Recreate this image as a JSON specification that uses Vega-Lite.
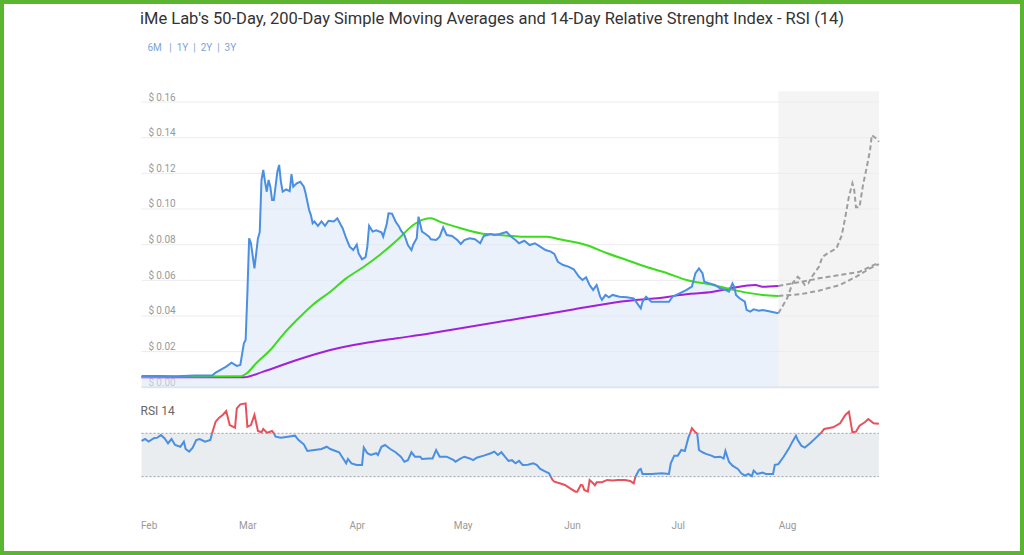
{
  "$schema": "https://vega.github.io/schema/vega-lite/v6.json",
  "width": 1024,
  "height": 555,
  "autosize": "none",
  "padding": 0,
  "background": "white",
  "title": {
    "text": "iMe Lab's 50-Day, 200-Day Simple Moving Averages and 14-Day Relative Strenght Index - RSI (14)",
    "subtitle": "\u200b\u00a0\u00a0\u00a06M\u00a0\u00a0\u00a0|\u00a0\u00a01Y\u00a0\u00a0|\u00a0\u00a02Y\u00a0\u00a0|\u00a0\u00a03Y",
    "anchor": "start",
    "frame": "group",
    "dx": 140,
    "offset": -53,
    "font": "Roboto",
    "fontSize": 16.5,
    "fontWeight": "normal",
    "color": "#333333",
    "subtitleFont": "Roboto",
    "subtitleFontSize": 10,
    "subtitleColor": "#7da3d6",
    "subtitlePadding": 16
  },
  "config": {
    "view": {"stroke": "#5cb531", "strokeWidth": 8, "fill": "white"},
    "font": "Roboto"
  },
  "datasets": {
    "price": [
      {"date": "2022-01-30", "v": 0.0063},
      {"date": "2022-02-04", "v": 0.0064},
      {"date": "2022-02-09", "v": 0.0062},
      {"date": "2022-02-14", "v": 0.0066},
      {"date": "2022-02-19", "v": 0.0066},
      {"date": "2022-02-20", "v": 0.0082},
      {"date": "2022-02-23", "v": 0.0116},
      {"date": "2022-02-24T12:00Z", "v": 0.0138},
      {"date": "2022-02-26", "v": 0.012},
      {"date": "2022-02-27", "v": 0.0125},
      {"date": "2022-02-28", "v": 0.0247},
      {"date": "2022-02-28T12:00Z", "v": 0.0265},
      {"date": "2022-03-01", "v": 0.0527},
      {"date": "2022-03-01T12:00Z", "v": 0.0836},
      {"date": "2022-03-02", "v": 0.081},
      {"date": "2022-03-03", "v": 0.0667},
      {"date": "2022-03-04", "v": 0.0836},
      {"date": "2022-03-04T12:00Z", "v": 0.087},
      {"date": "2022-03-05", "v": 0.1163},
      {"date": "2022-03-05T12:00Z", "v": 0.1219},
      {"date": "2022-03-06", "v": 0.1153},
      {"date": "2022-03-06T12:00Z", "v": 0.1097},
      {"date": "2022-03-07", "v": 0.1163},
      {"date": "2022-03-07T12:00Z", "v": 0.1125},
      {"date": "2022-03-08", "v": 0.105},
      {"date": "2022-03-08T12:00Z", "v": 0.105},
      {"date": "2022-03-09T12:00Z", "v": 0.1209},
      {"date": "2022-03-10", "v": 0.1247},
      {"date": "2022-03-10T12:00Z", "v": 0.1153},
      {"date": "2022-03-11", "v": 0.1097},
      {"date": "2022-03-12", "v": 0.111},
      {"date": "2022-03-13", "v": 0.110},
      {"date": "2022-03-13T12:00Z", "v": 0.1196},
      {"date": "2022-03-14", "v": 0.1125},
      {"date": "2022-03-15", "v": 0.1144},
      {"date": "2022-03-16", "v": 0.1153},
      {"date": "2022-03-17", "v": 0.1125},
      {"date": "2022-03-17T12:00Z", "v": 0.1088},
      {"date": "2022-03-18T12:00Z", "v": 0.0994},
      {"date": "2022-03-19", "v": 0.0966},
      {"date": "2022-03-19T12:00Z", "v": 0.092},
      {"date": "2022-03-20", "v": 0.093},
      {"date": "2022-03-21", "v": 0.0905},
      {"date": "2022-03-22", "v": 0.093},
      {"date": "2022-03-23", "v": 0.0905},
      {"date": "2022-03-24", "v": 0.0934},
      {"date": "2022-03-25T12:00Z", "v": 0.093},
      {"date": "2022-03-26T12:00Z", "v": 0.0948},
      {"date": "2022-03-27T12:00Z", "v": 0.091},
      {"date": "2022-03-28", "v": 0.0892},
      {"date": "2022-03-29", "v": 0.0836},
      {"date": "2022-03-30", "v": 0.0789},
      {"date": "2022-03-31", "v": 0.077},
      {"date": "2022-04-01", "v": 0.080},
      {"date": "2022-04-01T12:00Z", "v": 0.0752},
      {"date": "2022-04-02T12:00Z", "v": 0.0718},
      {"date": "2022-04-03T12:00Z", "v": 0.073},
      {"date": "2022-04-04", "v": 0.0789},
      {"date": "2022-04-04T12:00Z", "v": 0.0905},
      {"date": "2022-04-05T12:00Z", "v": 0.0873},
      {"date": "2022-04-06T12:00Z", "v": 0.088},
      {"date": "2022-04-08", "v": 0.0869},
      {"date": "2022-04-08T12:00Z", "v": 0.0845},
      {"date": "2022-04-09T12:00Z", "v": 0.0916},
      {"date": "2022-04-10", "v": 0.0976},
      {"date": "2022-04-11", "v": 0.0974},
      {"date": "2022-04-12", "v": 0.093},
      {"date": "2022-04-13", "v": 0.0901},
      {"date": "2022-04-13T12:00Z", "v": 0.088},
      {"date": "2022-04-14T12:00Z", "v": 0.0854},
      {"date": "2022-04-15T12:00Z", "v": 0.0798},
      {"date": "2022-04-16T12:00Z", "v": 0.077},
      {"date": "2022-04-17", "v": 0.080},
      {"date": "2022-04-18", "v": 0.0836},
      {"date": "2022-04-18T12:00Z", "v": 0.0957},
      {"date": "2022-04-19T12:00Z", "v": 0.0873},
      {"date": "2022-04-20T12:00Z", "v": 0.086},
      {"date": "2022-04-21T12:00Z", "v": 0.0845},
      {"date": "2022-04-22", "v": 0.083},
      {"date": "2022-04-23T12:00Z", "v": 0.0826},
      {"date": "2022-04-24T12:00Z", "v": 0.0845},
      {"date": "2022-04-25T12:00Z", "v": 0.0897},
      {"date": "2022-04-26T12:00Z", "v": 0.0854},
      {"date": "2022-04-28", "v": 0.0849},
      {"date": "2022-04-29T12:00Z", "v": 0.0826},
      {"date": "2022-04-30T12:00Z", "v": 0.0804},
      {"date": "2022-05-01T12:00Z", "v": 0.0826},
      {"date": "2022-05-03", "v": 0.0836},
      {"date": "2022-05-04T12:00Z", "v": 0.083},
      {"date": "2022-05-06", "v": 0.0808},
      {"date": "2022-05-07", "v": 0.0849},
      {"date": "2022-05-09", "v": 0.086},
      {"date": "2022-05-10", "v": 0.0854},
      {"date": "2022-05-11T12:00Z", "v": 0.086},
      {"date": "2022-05-13T12:00Z", "v": 0.0871},
      {"date": "2022-05-14T12:00Z", "v": 0.0849},
      {"date": "2022-05-16", "v": 0.0826},
      {"date": "2022-05-17", "v": 0.0808},
      {"date": "2022-05-18T12:00Z", "v": 0.0822},
      {"date": "2022-05-20", "v": 0.0798},
      {"date": "2022-05-21T12:00Z", "v": 0.0808},
      {"date": "2022-05-23", "v": 0.0789},
      {"date": "2022-05-24T12:00Z", "v": 0.077},
      {"date": "2022-05-26", "v": 0.0761},
      {"date": "2022-05-27", "v": 0.0748},
      {"date": "2022-05-28", "v": 0.0704},
      {"date": "2022-05-29T12:00Z", "v": 0.0686},
      {"date": "2022-05-31", "v": 0.0677},
      {"date": "2022-06-01T12:00Z", "v": 0.0662},
      {"date": "2022-06-03", "v": 0.062},
      {"date": "2022-06-04", "v": 0.0602},
      {"date": "2022-06-05", "v": 0.0617},
      {"date": "2022-06-06", "v": 0.0574},
      {"date": "2022-06-07", "v": 0.0546},
      {"date": "2022-06-08", "v": 0.0574},
      {"date": "2022-06-09", "v": 0.0508},
      {"date": "2022-06-09T12:00Z", "v": 0.049},
      {"date": "2022-06-10T12:00Z", "v": 0.0518},
      {"date": "2022-06-11T12:00Z", "v": 0.0505},
      {"date": "2022-06-12T12:00Z", "v": 0.0518},
      {"date": "2022-06-14T12:00Z", "v": 0.0508},
      {"date": "2022-06-16T12:00Z", "v": 0.0505},
      {"date": "2022-06-18T12:00Z", "v": 0.0499},
      {"date": "2022-06-19T12:00Z", "v": 0.0471},
      {"date": "2022-06-20T12:00Z", "v": 0.0443},
      {"date": "2022-06-21", "v": 0.048},
      {"date": "2022-06-22", "v": 0.0508},
      {"date": "2022-06-23T12:00Z", "v": 0.048},
      {"date": "2022-06-26", "v": 0.048},
      {"date": "2022-06-28T12:00Z", "v": 0.048},
      {"date": "2022-06-29T12:00Z", "v": 0.0508},
      {"date": "2022-07-01T12:00Z", "v": 0.0527},
      {"date": "2022-07-03T12:00Z", "v": 0.0546},
      {"date": "2022-07-05", "v": 0.0565},
      {"date": "2022-07-06", "v": 0.064},
      {"date": "2022-07-07", "v": 0.0667},
      {"date": "2022-07-08", "v": 0.064},
      {"date": "2022-07-08T12:00Z", "v": 0.0592},
      {"date": "2022-07-10", "v": 0.0583},
      {"date": "2022-07-11T12:00Z", "v": 0.0574},
      {"date": "2022-07-13", "v": 0.0555},
      {"date": "2022-07-14T12:00Z", "v": 0.0546},
      {"date": "2022-07-15T12:00Z", "v": 0.0536},
      {"date": "2022-07-16T12:00Z", "v": 0.0583},
      {"date": "2022-07-17", "v": 0.0564},
      {"date": "2022-07-17T12:00Z", "v": 0.0518},
      {"date": "2022-07-18T12:00Z", "v": 0.0499},
      {"date": "2022-07-20", "v": 0.048},
      {"date": "2022-07-20T12:00Z", "v": 0.0434},
      {"date": "2022-07-21T12:00Z", "v": 0.0424},
      {"date": "2022-07-22T12:00Z", "v": 0.0437},
      {"date": "2022-07-24", "v": 0.043},
      {"date": "2022-07-25", "v": 0.0434},
      {"date": "2022-07-26T12:00Z", "v": 0.0428},
      {"date": "2022-07-27T12:00Z", "v": 0.0424},
      {"date": "2022-07-29T12:00Z", "v": 0.0415}
    ],
    "sma": [
      {"date": "2022-01-30", "v": 0.0058, "s": "sma50"},
      {"date": "2022-02-27", "v": 0.0062, "s": "sma50"},
      {"date": "2022-03-01", "v": 0.0082, "s": "sma50"},
      {"date": "2022-03-03T12:00Z", "v": 0.0135, "s": "sma50"},
      {"date": "2022-03-07T12:00Z", "v": 0.0209, "s": "sma50"},
      {"date": "2022-03-11", "v": 0.0293, "s": "sma50"},
      {"date": "2022-03-15", "v": 0.0377, "s": "sma50"},
      {"date": "2022-03-19T12:00Z", "v": 0.0462, "s": "sma50"},
      {"date": "2022-03-24T12:00Z", "v": 0.0536, "s": "sma50"},
      {"date": "2022-03-29", "v": 0.0611, "s": "sma50"},
      {"date": "2022-04-03", "v": 0.0676, "s": "sma50"},
      {"date": "2022-04-07T12:00Z", "v": 0.0742, "s": "sma50"},
      {"date": "2022-04-12T12:00Z", "v": 0.0826, "s": "sma50"},
      {"date": "2022-04-17", "v": 0.091, "s": "sma50"},
      {"date": "2022-04-20", "v": 0.0942, "s": "sma50"},
      {"date": "2022-04-22", "v": 0.0948, "s": "sma50"},
      {"date": "2022-04-24T12:00Z", "v": 0.0929, "s": "sma50"},
      {"date": "2022-04-30T12:00Z", "v": 0.0892, "s": "sma50"},
      {"date": "2022-05-06", "v": 0.0864, "s": "sma50"},
      {"date": "2022-05-11T12:00Z", "v": 0.0854, "s": "sma50"},
      {"date": "2022-05-17T12:00Z", "v": 0.0845, "s": "sma50"},
      {"date": "2022-05-25", "v": 0.0845, "s": "sma50"},
      {"date": "2022-05-28T12:00Z", "v": 0.083, "s": "sma50"},
      {"date": "2022-06-05", "v": 0.0798, "s": "sma50"},
      {"date": "2022-06-11", "v": 0.0752, "s": "sma50"},
      {"date": "2022-06-16T12:00Z", "v": 0.0714, "s": "sma50"},
      {"date": "2022-06-22", "v": 0.0676, "s": "sma50"},
      {"date": "2022-06-28", "v": 0.064, "s": "sma50"},
      {"date": "2022-07-03T12:00Z", "v": 0.0602, "s": "sma50"},
      {"date": "2022-07-11", "v": 0.0574, "s": "sma50"},
      {"date": "2022-07-16", "v": 0.055, "s": "sma50"},
      {"date": "2022-07-20T12:00Z", "v": 0.0531, "s": "sma50"},
      {"date": "2022-07-25", "v": 0.0518, "s": "sma50"},
      {"date": "2022-07-29T12:00Z", "v": 0.0512, "s": "sma50"},
      {"date": "2022-01-30", "v": 0.0056, "s": "sma200"},
      {"date": "2022-02-28", "v": 0.0056, "s": "sma200"},
      {"date": "2022-03-05T12:00Z", "v": 0.0088, "s": "sma200"},
      {"date": "2022-03-15", "v": 0.0153, "s": "sma200"},
      {"date": "2022-03-24T12:00Z", "v": 0.0209, "s": "sma200"},
      {"date": "2022-04-03", "v": 0.0247, "s": "sma200"},
      {"date": "2022-04-12T12:00Z", "v": 0.0275, "s": "sma200"},
      {"date": "2022-04-22", "v": 0.0303, "s": "sma200"},
      {"date": "2022-04-27T12:00Z", "v": 0.0321, "s": "sma200"},
      {"date": "2022-05-17T12:00Z", "v": 0.0387, "s": "sma200"},
      {"date": "2022-05-31T12:00Z", "v": 0.0434, "s": "sma200"},
      {"date": "2022-06-14T12:00Z", "v": 0.048, "s": "sma200"},
      {"date": "2022-06-28T12:00Z", "v": 0.0508, "s": "sma200"},
      {"date": "2022-07-01T12:00Z", "v": 0.0518, "s": "sma200"},
      {"date": "2022-07-11", "v": 0.0536, "s": "sma200"},
      {"date": "2022-07-16", "v": 0.0555, "s": "sma200"},
      {"date": "2022-07-23", "v": 0.0574, "s": "sma200"},
      {"date": "2022-07-25", "v": 0.0564, "s": "sma200"},
      {"date": "2022-07-29T12:00Z", "v": 0.0568, "s": "sma200"}
    ],
    "forecast": [
      {"date": "2022-07-29T12:00Z", "v": 0.0415, "s": "price"},
      {"date": "2022-08-01", "v": 0.0499, "s": "price"},
      {"date": "2022-08-02T12:00Z", "v": 0.0583, "s": "price"},
      {"date": "2022-08-04", "v": 0.062, "s": "price"},
      {"date": "2022-08-05", "v": 0.0602, "s": "price"},
      {"date": "2022-08-06", "v": 0.0574, "s": "price"},
      {"date": "2022-08-07", "v": 0.0583, "s": "price"},
      {"date": "2022-08-08", "v": 0.062, "s": "price"},
      {"date": "2022-08-10", "v": 0.0676, "s": "price"},
      {"date": "2022-08-11", "v": 0.0732, "s": "price"},
      {"date": "2022-08-12T12:00Z", "v": 0.0752, "s": "price"},
      {"date": "2022-08-15", "v": 0.078, "s": "price"},
      {"date": "2022-08-16T12:00Z", "v": 0.0854, "s": "price"},
      {"date": "2022-08-17T12:00Z", "v": 0.0957, "s": "price"},
      {"date": "2022-08-18T12:00Z", "v": 0.1069, "s": "price"},
      {"date": "2022-08-19T12:00Z", "v": 0.1144, "s": "price"},
      {"date": "2022-08-20", "v": 0.1107, "s": "price"},
      {"date": "2022-08-20T12:00Z", "v": 0.101, "s": "price"},
      {"date": "2022-08-21T12:00Z", "v": 0.101, "s": "price"},
      {"date": "2022-08-22T12:00Z", "v": 0.1135, "s": "price"},
      {"date": "2022-08-23T12:00Z", "v": 0.1228, "s": "price"},
      {"date": "2022-08-24T12:00Z", "v": 0.1331, "s": "price"},
      {"date": "2022-08-25", "v": 0.1415, "s": "price"},
      {"date": "2022-08-26T12:00Z", "v": 0.1391, "s": "price"},
      {"date": "2022-08-27", "v": 0.1377, "s": "price"},
      {"date": "2022-07-29T12:00Z", "v": 0.0512, "s": "sma50"},
      {"date": "2022-08-05", "v": 0.0523, "s": "sma50"},
      {"date": "2022-08-10", "v": 0.0542, "s": "sma50"},
      {"date": "2022-08-16", "v": 0.0574, "s": "sma50"},
      {"date": "2022-08-20T12:00Z", "v": 0.062, "s": "sma50"},
      {"date": "2022-08-24T12:00Z", "v": 0.0667, "s": "sma50"},
      {"date": "2022-08-27", "v": 0.0691, "s": "sma50"},
      {"date": "2022-07-29T12:00Z", "v": 0.0568, "s": "sma200"},
      {"date": "2022-08-05", "v": 0.0592, "s": "sma200"},
      {"date": "2022-08-10", "v": 0.0611, "s": "sma200"},
      {"date": "2022-08-16", "v": 0.063, "s": "sma200"},
      {"date": "2022-08-21T12:00Z", "v": 0.0648, "s": "sma200"},
      {"date": "2022-08-24T12:00Z", "v": 0.0676, "s": "sma200"},
      {"date": "2022-08-27", "v": 0.0699, "s": "sma200"}
    ],
    "forecastPeriod": [
      {"date": "2022-07-29T12:00Z", "end": "2022-08-27", "v": 0, "v2": 0.166}
    ],
    "grid": [
      {"v": 0.02, "date": "2022-01-30", "end": "2022-08-27"},
      {"v": 0.04, "date": "2022-01-30", "end": "2022-08-27"},
      {"v": 0.06, "date": "2022-01-30", "end": "2022-08-27"},
      {"v": 0.08, "date": "2022-01-30", "end": "2022-08-27"},
      {"v": 0.10, "date": "2022-01-30", "end": "2022-08-27"},
      {"v": 0.12, "date": "2022-01-30", "end": "2022-08-27"},
      {"v": 0.14, "date": "2022-01-30", "end": "2022-08-27"},
      {"v": 0.16, "date": "2022-01-30", "end": "2022-08-27"}
    ],
    "baseline": [
      {"v": 0, "date": "2022-01-30", "end": "2022-08-27"}
    ],
    "band": [
      {"r": 30, "r2": 70, "date": "2022-01-30", "end": "2022-08-27"}
    ],
    "levels": [
      {"r": 30, "date": "2022-01-30", "end": "2022-08-27"},
      {"r": 70, "date": "2022-01-30", "end": "2022-08-27"}
    ],
    "rsi": [
      {"date": "2022-01-30", "r": 62.9, "seg": 1, "zone": "n"},
      {"date": "2022-01-31", "r": 64.7, "seg": 1, "zone": "n"},
      {"date": "2022-02-01", "r": 62.3, "seg": 1, "zone": "n"},
      {"date": "2022-02-02T12:00Z", "r": 65.4, "seg": 1, "zone": "n"},
      {"date": "2022-02-03T12:00Z", "r": 66, "seg": 1, "zone": "n"},
      {"date": "2022-02-04T12:00Z", "r": 68.4, "seg": 1, "zone": "n"},
      {"date": "2022-02-05T12:00Z", "r": 65.4, "seg": 1, "zone": "n"},
      {"date": "2022-02-06T12:00Z", "r": 60.8, "seg": 1, "zone": "n"},
      {"date": "2022-02-07T12:00Z", "r": 64.7, "seg": 1, "zone": "n"},
      {"date": "2022-02-08T12:00Z", "r": 59.2, "seg": 1, "zone": "n"},
      {"date": "2022-02-10", "r": 57.6, "seg": 1, "zone": "n"},
      {"date": "2022-02-11", "r": 62.3, "seg": 1, "zone": "n"},
      {"date": "2022-02-11T12:00Z", "r": 55.5, "seg": 1, "zone": "n"},
      {"date": "2022-02-12T12:00Z", "r": 53.1, "seg": 1, "zone": "n"},
      {"date": "2022-02-13T12:00Z", "r": 56.8, "seg": 1, "zone": "n"},
      {"date": "2022-02-14T12:00Z", "r": 63.8, "seg": 1, "zone": "n"},
      {"date": "2022-02-15T12:00Z", "r": 64.7, "seg": 1, "zone": "n"},
      {"date": "2022-02-17", "r": 62.3, "seg": 1, "zone": "n"},
      {"date": "2022-02-18T12:00Z", "r": 63.8, "seg": 1, "zone": "n"},
      {"date": "2022-02-19", "r": 70, "seg": 1, "zone": "n"},
      {"date": "2022-02-19", "r": 70, "seg": 2, "zone": "x"},
      {"date": "2022-02-20", "r": 80.7, "seg": 2, "zone": "x"},
      {"date": "2022-02-21", "r": 84.4, "seg": 2, "zone": "x"},
      {"date": "2022-02-22", "r": 86.9, "seg": 2, "zone": "x"},
      {"date": "2022-02-23", "r": 90.5, "seg": 2, "zone": "x"},
      {"date": "2022-02-24", "r": 77.6, "seg": 2, "zone": "x"},
      {"date": "2022-02-25T12:00Z", "r": 75.2, "seg": 2, "zone": "x"},
      {"date": "2022-02-26", "r": 93, "seg": 2, "zone": "x"},
      {"date": "2022-02-27", "r": 96.7, "seg": 2, "zone": "x"},
      {"date": "2022-02-28T12:00Z", "r": 97.6, "seg": 2, "zone": "x"},
      {"date": "2022-03-01", "r": 76.1, "seg": 2, "zone": "x"},
      {"date": "2022-03-02", "r": 77.6, "seg": 2, "zone": "x"},
      {"date": "2022-03-03", "r": 86.9, "seg": 2, "zone": "x"},
      {"date": "2022-03-04", "r": 72.1, "seg": 2, "zone": "x"},
      {"date": "2022-03-05", "r": 70.9, "seg": 2, "zone": "x"},
      {"date": "2022-03-05T12:00Z", "r": 74, "seg": 2, "zone": "x"},
      {"date": "2022-03-06T12:00Z", "r": 70.5, "seg": 2, "zone": "x"},
      {"date": "2022-03-07", "r": 70.9, "seg": 2, "zone": "x"},
      {"date": "2022-03-08", "r": 72.1, "seg": 2, "zone": "x"},
      {"date": "2022-03-08T12:00Z", "r": 70, "seg": 2, "zone": "x"},
      {"date": "2022-03-08T12:00Z", "r": 70, "seg": 3, "zone": "n"},
      {"date": "2022-03-09", "r": 66.9, "seg": 3, "zone": "n"},
      {"date": "2022-03-10T12:00Z", "r": 66, "seg": 3, "zone": "n"},
      {"date": "2022-03-12T12:00Z", "r": 66.9, "seg": 3, "zone": "n"},
      {"date": "2022-03-14T12:00Z", "r": 67.8, "seg": 3, "zone": "n"},
      {"date": "2022-03-15T12:00Z", "r": 63.8, "seg": 3, "zone": "n"},
      {"date": "2022-03-17", "r": 59.8, "seg": 3, "zone": "n"},
      {"date": "2022-03-18", "r": 53.7, "seg": 3, "zone": "n"},
      {"date": "2022-03-20", "r": 54.6, "seg": 3, "zone": "n"},
      {"date": "2022-03-22", "r": 55.5, "seg": 3, "zone": "n"},
      {"date": "2022-03-23T12:00Z", "r": 57.6, "seg": 3, "zone": "n"},
      {"date": "2022-03-24T12:00Z", "r": 55.5, "seg": 3, "zone": "n"},
      {"date": "2022-03-26", "r": 53.7, "seg": 3, "zone": "n"},
      {"date": "2022-03-27", "r": 52.5, "seg": 3, "zone": "n"},
      {"date": "2022-03-28", "r": 47.5, "seg": 3, "zone": "n"},
      {"date": "2022-03-29", "r": 42.3, "seg": 3, "zone": "n"},
      {"date": "2022-03-29T12:00Z", "r": 46.3, "seg": 3, "zone": "n"},
      {"date": "2022-03-30T12:00Z", "r": 42.3, "seg": 3, "zone": "n"},
      {"date": "2022-04-01", "r": 40.8, "seg": 3, "zone": "n"},
      {"date": "2022-04-02T12:00Z", "r": 40.8, "seg": 3, "zone": "n"},
      {"date": "2022-04-03", "r": 56.8, "seg": 3, "zone": "n"},
      {"date": "2022-04-04", "r": 51.6, "seg": 3, "zone": "n"},
      {"date": "2022-04-05", "r": 50, "seg": 3, "zone": "n"},
      {"date": "2022-04-06T12:00Z", "r": 51.6, "seg": 3, "zone": "n"},
      {"date": "2022-04-07", "r": 50, "seg": 3, "zone": "n"},
      {"date": "2022-04-08", "r": 57.6, "seg": 3, "zone": "n"},
      {"date": "2022-04-09", "r": 59.2, "seg": 3, "zone": "n"},
      {"date": "2022-04-10T12:00Z", "r": 55.5, "seg": 3, "zone": "n"},
      {"date": "2022-04-12", "r": 52.5, "seg": 3, "zone": "n"},
      {"date": "2022-04-13T12:00Z", "r": 48.4, "seg": 3, "zone": "n"},
      {"date": "2022-04-14T12:00Z", "r": 43.8, "seg": 3, "zone": "n"},
      {"date": "2022-04-15T12:00Z", "r": 45.2, "seg": 3, "zone": "n"},
      {"date": "2022-04-16T12:00Z", "r": 52.5, "seg": 3, "zone": "n"},
      {"date": "2022-04-17T12:00Z", "r": 48.4, "seg": 3, "zone": "n"},
      {"date": "2022-04-19", "r": 48.4, "seg": 3, "zone": "n"},
      {"date": "2022-04-19T12:00Z", "r": 46.3, "seg": 3, "zone": "n"},
      {"date": "2022-04-21T12:00Z", "r": 46.8, "seg": 3, "zone": "n"},
      {"date": "2022-04-22T12:00Z", "r": 46.8, "seg": 3, "zone": "n"},
      {"date": "2022-04-23T12:00Z", "r": 54.6, "seg": 3, "zone": "n"},
      {"date": "2022-04-24T12:00Z", "r": 48.4, "seg": 3, "zone": "n"},
      {"date": "2022-04-26T12:00Z", "r": 48.4, "seg": 3, "zone": "n"},
      {"date": "2022-04-28T12:00Z", "r": 45.2, "seg": 3, "zone": "n"},
      {"date": "2022-04-29", "r": 43.8, "seg": 3, "zone": "n"},
      {"date": "2022-04-30T12:00Z", "r": 46.8, "seg": 3, "zone": "n"},
      {"date": "2022-05-01T12:00Z", "r": 48.4, "seg": 3, "zone": "n"},
      {"date": "2022-05-03", "r": 46.8, "seg": 3, "zone": "n"},
      {"date": "2022-05-04", "r": 45.2, "seg": 3, "zone": "n"},
      {"date": "2022-05-05", "r": 47.5, "seg": 3, "zone": "n"},
      {"date": "2022-05-07", "r": 49.4, "seg": 3, "zone": "n"},
      {"date": "2022-05-09", "r": 51.6, "seg": 3, "zone": "n"},
      {"date": "2022-05-10", "r": 53.1, "seg": 3, "zone": "n"},
      {"date": "2022-05-11", "r": 50, "seg": 3, "zone": "n"},
      {"date": "2022-05-12", "r": 52.5, "seg": 3, "zone": "n"},
      {"date": "2022-05-13", "r": 48.4, "seg": 3, "zone": "n"},
      {"date": "2022-05-14", "r": 44.5, "seg": 3, "zone": "n"},
      {"date": "2022-05-15", "r": 45.2, "seg": 3, "zone": "n"},
      {"date": "2022-05-16", "r": 42.3, "seg": 3, "zone": "n"},
      {"date": "2022-05-17", "r": 44.5, "seg": 3, "zone": "n"},
      {"date": "2022-05-18", "r": 40.8, "seg": 3, "zone": "n"},
      {"date": "2022-05-19T12:00Z", "r": 41, "seg": 3, "zone": "n"},
      {"date": "2022-05-21", "r": 42.3, "seg": 3, "zone": "n"},
      {"date": "2022-05-22", "r": 41, "seg": 3, "zone": "n"},
      {"date": "2022-05-23", "r": 37.1, "seg": 3, "zone": "n"},
      {"date": "2022-05-24T12:00Z", "r": 34.6, "seg": 3, "zone": "n"},
      {"date": "2022-05-25T12:00Z", "r": 33.1, "seg": 3, "zone": "n"},
      {"date": "2022-05-26", "r": 30, "seg": 3, "zone": "n"},
      {"date": "2022-05-26", "r": 30, "seg": 4, "zone": "x"},
      {"date": "2022-05-26T12:00Z", "r": 27, "seg": 4, "zone": "x"},
      {"date": "2022-05-27", "r": 25.4, "seg": 4, "zone": "x"},
      {"date": "2022-05-28T12:00Z", "r": 23.9, "seg": 4, "zone": "x"},
      {"date": "2022-05-30", "r": 22.4, "seg": 4, "zone": "x"},
      {"date": "2022-05-31T12:00Z", "r": 19.3, "seg": 4, "zone": "x"},
      {"date": "2022-06-02", "r": 16.2, "seg": 4, "zone": "x"},
      {"date": "2022-06-02T12:00Z", "r": 16.2, "seg": 4, "zone": "x"},
      {"date": "2022-06-03T12:00Z", "r": 22.4, "seg": 4, "zone": "x"},
      {"date": "2022-06-04", "r": 22, "seg": 4, "zone": "x"},
      {"date": "2022-06-04T12:00Z", "r": 17.7, "seg": 4, "zone": "x"},
      {"date": "2022-06-05T12:00Z", "r": 16.2, "seg": 4, "zone": "x"},
      {"date": "2022-06-06", "r": 27, "seg": 4, "zone": "x"},
      {"date": "2022-06-07", "r": 23.9, "seg": 4, "zone": "x"},
      {"date": "2022-06-07T12:00Z", "r": 22, "seg": 4, "zone": "x"},
      {"date": "2022-06-08", "r": 24.9, "seg": 4, "zone": "x"},
      {"date": "2022-06-09T12:00Z", "r": 24.9, "seg": 4, "zone": "x"},
      {"date": "2022-06-11", "r": 27, "seg": 4, "zone": "x"},
      {"date": "2022-06-12T12:00Z", "r": 26.5, "seg": 4, "zone": "x"},
      {"date": "2022-06-14", "r": 27, "seg": 4, "zone": "x"},
      {"date": "2022-06-16", "r": 27, "seg": 4, "zone": "x"},
      {"date": "2022-06-17T12:00Z", "r": 26, "seg": 4, "zone": "x"},
      {"date": "2022-06-18T12:00Z", "r": 23.9, "seg": 4, "zone": "x"},
      {"date": "2022-06-19", "r": 30, "seg": 4, "zone": "x"},
      {"date": "2022-06-19", "r": 30, "seg": 5, "zone": "n"},
      {"date": "2022-06-20", "r": 36.2, "seg": 5, "zone": "n"},
      {"date": "2022-06-20T12:00Z", "r": 37.1, "seg": 5, "zone": "n"},
      {"date": "2022-06-21", "r": 32.5, "seg": 5, "zone": "n"},
      {"date": "2022-06-23T12:00Z", "r": 32.5, "seg": 5, "zone": "n"},
      {"date": "2022-06-26T12:00Z", "r": 33.1, "seg": 5, "zone": "n"},
      {"date": "2022-06-28T12:00Z", "r": 32.5, "seg": 5, "zone": "n"},
      {"date": "2022-06-29", "r": 42.3, "seg": 5, "zone": "n"},
      {"date": "2022-06-30", "r": 49.4, "seg": 5, "zone": "n"},
      {"date": "2022-07-01", "r": 49.4, "seg": 5, "zone": "n"},
      {"date": "2022-07-02", "r": 54.6, "seg": 5, "zone": "n"},
      {"date": "2022-07-03", "r": 53.7, "seg": 5, "zone": "n"},
      {"date": "2022-07-04", "r": 66, "seg": 5, "zone": "n"},
      {"date": "2022-07-04T12:00Z", "r": 70, "seg": 5, "zone": "n"},
      {"date": "2022-07-04T12:00Z", "r": 70, "seg": 6, "zone": "x"},
      {"date": "2022-07-05", "r": 74.6, "seg": 6, "zone": "x"},
      {"date": "2022-07-06", "r": 70.9, "seg": 6, "zone": "x"},
      {"date": "2022-07-06T12:00Z", "r": 70, "seg": 6, "zone": "x"},
      {"date": "2022-07-06T12:00Z", "r": 70, "seg": 7, "zone": "n"},
      {"date": "2022-07-07", "r": 54.6, "seg": 7, "zone": "n"},
      {"date": "2022-07-08", "r": 52.5, "seg": 7, "zone": "n"},
      {"date": "2022-07-09", "r": 51, "seg": 7, "zone": "n"},
      {"date": "2022-07-10T12:00Z", "r": 49.4, "seg": 7, "zone": "n"},
      {"date": "2022-07-11T12:00Z", "r": 48, "seg": 7, "zone": "n"},
      {"date": "2022-07-13", "r": 48.4, "seg": 7, "zone": "n"},
      {"date": "2022-07-14", "r": 46.8, "seg": 7, "zone": "n"},
      {"date": "2022-07-14T12:00Z", "r": 53.7, "seg": 7, "zone": "n"},
      {"date": "2022-07-15T12:00Z", "r": 43.8, "seg": 7, "zone": "n"},
      {"date": "2022-07-16T12:00Z", "r": 40.1, "seg": 7, "zone": "n"},
      {"date": "2022-07-18", "r": 37.1, "seg": 7, "zone": "n"},
      {"date": "2022-07-19", "r": 33.1, "seg": 7, "zone": "n"},
      {"date": "2022-07-20", "r": 30.9, "seg": 7, "zone": "n"},
      {"date": "2022-07-21", "r": 32.5, "seg": 7, "zone": "n"},
      {"date": "2022-07-22", "r": 30.5, "seg": 7, "zone": "n"},
      {"date": "2022-07-22T12:00Z", "r": 35.6, "seg": 7, "zone": "n"},
      {"date": "2022-07-23T12:00Z", "r": 32.5, "seg": 7, "zone": "n"},
      {"date": "2022-07-25", "r": 33.7, "seg": 7, "zone": "n"},
      {"date": "2022-07-26", "r": 32.5, "seg": 7, "zone": "n"},
      {"date": "2022-07-28", "r": 32.5, "seg": 7, "zone": "n"},
      {"date": "2022-07-28T12:00Z", "r": 40.8, "seg": 7, "zone": "n"},
      {"date": "2022-07-29T12:00Z", "r": 41.5, "seg": 7, "zone": "n"},
      {"date": "2022-07-31", "r": 48.4, "seg": 7, "zone": "n"},
      {"date": "2022-08-01T12:00Z", "r": 56.1, "seg": 7, "zone": "n"},
      {"date": "2022-08-02T12:00Z", "r": 62.3, "seg": 7, "zone": "n"},
      {"date": "2022-08-03T12:00Z", "r": 67.8, "seg": 7, "zone": "n"},
      {"date": "2022-08-04", "r": 63.8, "seg": 7, "zone": "n"},
      {"date": "2022-08-05", "r": 58.6, "seg": 7, "zone": "n"},
      {"date": "2022-08-06", "r": 56.8, "seg": 7, "zone": "n"},
      {"date": "2022-08-07T12:00Z", "r": 60.8, "seg": 7, "zone": "n"},
      {"date": "2022-08-09T12:00Z", "r": 66.9, "seg": 7, "zone": "n"},
      {"date": "2022-08-10T12:00Z", "r": 70, "seg": 7, "zone": "n"},
      {"date": "2022-08-10T12:00Z", "r": 70, "seg": 8, "zone": "x"},
      {"date": "2022-08-11T12:00Z", "r": 74, "seg": 8, "zone": "x"},
      {"date": "2022-08-14", "r": 75.5, "seg": 8, "zone": "x"},
      {"date": "2022-08-16", "r": 79.2, "seg": 8, "zone": "x"},
      {"date": "2022-08-17T12:00Z", "r": 86.9, "seg": 8, "zone": "x"},
      {"date": "2022-08-18T12:00Z", "r": 89.9, "seg": 8, "zone": "x"},
      {"date": "2022-08-19T12:00Z", "r": 70.9, "seg": 8, "zone": "x"},
      {"date": "2022-08-20T12:00Z", "r": 71.5, "seg": 8, "zone": "x"},
      {"date": "2022-08-21T12:00Z", "r": 77, "seg": 8, "zone": "x"},
      {"date": "2022-08-23", "r": 80.1, "seg": 8, "zone": "x"},
      {"date": "2022-08-24", "r": 83.2, "seg": 8, "zone": "x"},
      {"date": "2022-08-25T12:00Z", "r": 79.2, "seg": 8, "zone": "x"},
      {"date": "2022-08-27", "r": 78.7, "seg": 8, "zone": "x"}
    ]
  },
  "encoding": {
    "x": {
      "field": "date",
      "type": "temporal",
      "scale": {
        "type": "utc",
        "nice": false,
        "domain": [
          {"year": 2021, "month": 12, "date": 20, "hours": 21, "minutes": 7, "utc": true},
          {"year": 2022, "month": 10, "date": 7, "hours": 3, "minutes": 7, "utc": true}
        ]
      },
      "axis": {
        "title": null,
        "domain": false,
        "ticks": false,
        "tickSize": 0,
        "grid": false,
        "labelPadding": -35,
        "labelColor": "#999999",
        "labelFont": "Roboto",
        "labelFontSize": 10,
        "labelOverlap": false,
        "labelFlush": false,
        "format": "%b",
        "values": [
          {"year": 2022, "month": 2, "date": 1, "utc": true},
          {"year": 2022, "month": 3, "date": 1, "utc": true},
          {"year": 2022, "month": 4, "date": 1, "utc": true},
          {"year": 2022, "month": 5, "date": 1, "utc": true},
          {"year": 2022, "month": 6, "date": 1, "utc": true},
          {"year": 2022, "month": 7, "date": 1, "utc": true},
          {"year": 2022, "month": 8, "date": 1, "utc": true}
        ]
      }
    }
  },
  "layer": [
    {
      "encoding": {
        "y": {
          "field": "v",
          "type": "quantitative",
          "scale": {"domain": [-0.09406, 0.21722], "nice": false, "zero": false},
          "axis": {
            "orient": "left",
            "title": null,
            "grid": false,
            "domain": false,
            "ticks": false,
            "tickSize": 0,
            "labelPadding": -148,
            "labelAlign": "left",
            "labelBaseline": "bottom",
            "labelColor": "#999999",
            "labelFont": "Roboto",
            "labelFontSize": 10,
            "labelOverlap": false,
            "values": [0, 0.02, 0.04, 0.06, 0.08, 0.1, 0.12, 0.14, 0.16],
            "labelExpr": "'$\u2009' + format(datum.value, '.2f')"
          }
        }
      },
      "layer": [
        {
          "data": {"name": "forecastPeriod"},
          "mark": {"type": "rect", "color": "#f4f4f4"},
          "encoding": {
            "x2": {"field": "end"},
            "y2": {"field": "v2"}
          }
        },
        {
          "data": {"name": "grid"},
          "mark": {"type": "rule", "color": "#ececec", "strokeWidth": 1},
          "encoding": {
            "x2": {"field": "end"}
          }
        },
        {
          "data": {"name": "price"},
          "mark": {"type": "area", "color": "#dce8f8", "opacity": 0.6},
          "encoding": {
            "y2": {"datum": 0}
          }
        },
        {
          "data": {"name": "baseline"},
          "mark": {"type": "rule", "color": "#e0e5ec", "strokeWidth": 2},
          "encoding": {
            "x2": {"field": "end"}
          }
        },
        {
          "data": {"name": "forecast"},
          "mark": {"type": "line", "color": "#9e9e9e", "strokeWidth": 2, "strokeDash": [5, 3]},
          "encoding": {
            "detail": {"field": "s"}
          }
        },
        {
          "data": {"name": "sma"},
          "transform": [{"filter": "datum.s === 'sma200'"}],
          "mark": {"type": "line", "color": "#a21fdc", "strokeWidth": 2, "interpolate": "monotone"},
          "encoding": {}
        },
        {
          "data": {"name": "sma"},
          "transform": [{"filter": "datum.s === 'sma50'"}],
          "mark": {"type": "line", "color": "#3bdc1c", "strokeWidth": 2, "interpolate": "monotone"},
          "encoding": {}
        },
        {
          "data": {"name": "price"},
          "mark": {"type": "line", "color": "#4a8fe2", "strokeWidth": 2},
          "encoding": {}
        }
      ]
    },
    {
      "encoding": {
        "y": {
          "field": "r",
          "type": "quantitative",
          "scale": {"domain": [-42.2, 469.4], "nice": false, "zero": false},
          "axis": {
            "orient": "right",
            "title": "RSI 14",
            "labels": false,
            "ticks": false,
            "domain": false,
            "grid": false,
            "titleAngle": 0,
            "titleX": -884,
            "titleY": 410,
            "titleAlign": "left",
            "titleBaseline": "middle",
            "titleColor": "#666666",
            "titleFont": "Roboto",
            "titleFontSize": 12,
            "titleFontWeight": "normal"
          }
        }
      },
      "layer": [
        {
          "data": {"name": "band"},
          "mark": {"type": "rect", "color": "#e9edf0"},
          "encoding": {
            "x2": {"field": "end"},
            "y2": {"field": "r2"}
          }
        },
        {
          "data": {"name": "levels"},
          "mark": {"type": "rule", "color": "#9aa0a6", "strokeWidth": 1, "strokeDash": [2, 2]},
          "encoding": {
            "x2": {"field": "end"}
          }
        },
        {
          "data": {"name": "rsi"},
          "transform": [{"filter": "datum.zone === 'n'"}],
          "mark": {"type": "line", "color": "#4a8fe2", "strokeWidth": 2},
          "encoding": {"detail": {"field": "seg"}}
        },
        {
          "data": {"name": "rsi"},
          "transform": [{"filter": "datum.zone === 'x'"}],
          "mark": {"type": "line", "color": "#e8505b", "strokeWidth": 2},
          "encoding": {"detail": {"field": "seg"}}
        }
      ]
    }
  ],
  "resolve": {"scale": {"y": "independent"}}
}
